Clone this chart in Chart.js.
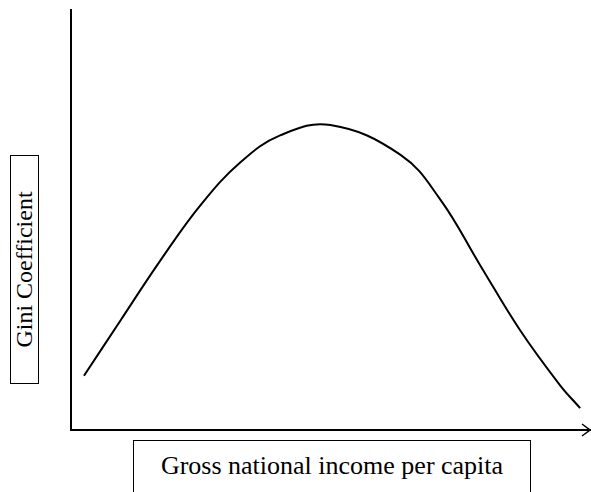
<!DOCTYPE html>
<html>
<head>
<meta charset="utf-8">
<script src="https://cdn.jsdelivr.net/npm/chart.js@4"></script>
<style>
  html, body { margin: 0; padding: 0; background: #fff; }
  #wrap { position: relative; width: 591px; height: 492px; overflow: hidden; }
  canvas { position: absolute; left: 0; top: 0; }
  .box { position: absolute; border: 1px solid #000; background: #fff;
         font-family: "Liberation Serif", "DejaVu Serif", serif; font-size: 26px; color: #000;
         display: flex; align-items: center; justify-content: center; box-sizing: border-box; }
  #ylab { left: 10px; top: 155px; width: 29px; height: 229px; font-size: 24px; }
  #ylab span { transform: rotate(-90deg); white-space: nowrap; }
  #xlab { left: 133px; top: 440px; width: 398px; height: 60px; align-items: flex-start; padding-top: 10px; }
</style>
</head>
<body>
<div id="wrap">
  <canvas id="c" width="591" height="492"></canvas>
  <div class="box" id="ylab"><span>Gini Coefficient</span></div>
  <div class="box" id="xlab">Gross national income per capita</div>
</div>
<script>
const income = [2.5, 9.6, 17.3, 25, 32.7, 40.4, 50, 63.5, 71.2, 78.8, 86.5, 94.2, 98.1];
const gini = [12.9, 26.2, 40.5, 53.6, 63.8, 70.2, 72.6, 65.5, 54.8, 39.3, 23.8, 10.7, 5.2];

const arrows = {
  id: 'arrows',
  afterDraw(chart) {
    const { ctx, chartArea: a } = chart;
    ctx.save();
    ctx.strokeStyle = '#000';
    ctx.lineWidth = 1.5;
    ctx.beginPath();
    ctx.moveTo(a.right - 8, a.bottom - 6);
    ctx.lineTo(a.right, a.bottom);
    ctx.lineTo(a.right - 8, a.bottom + 6);
    ctx.stroke();
    ctx.restore();
  }
};

new Chart(document.getElementById('c'), {
  type: 'line',
  data: {
    datasets: [{
      data: income.map((x, i) => ({ x: x, y: gini[i] })),
      borderColor: '#000',
      borderWidth: 2,
      pointRadius: 0,
      tension: 0.4,
      fill: false
    }]
  },
  options: {
    responsive: false,
    animation: false,
    layout: { padding: { left: 63, right: 1, top: 10, bottom: 54 } },
    plugins: { legend: { display: false }, tooltip: { enabled: false } },
    scales: {
      x: {
        type: 'linear', min: 0, max: 100,
        ticks: { display: false },
        grid: { display: false },
        border: { display: true, color: '#000', width: 2 }
      },
      y: {
        min: 0, max: 100,
        ticks: { display: false },
        grid: { display: false },
        border: { display: true, color: '#000', width: 2 }
      }
    }
  },
  plugins: [arrows]
});
</script>
</body>
</html>
